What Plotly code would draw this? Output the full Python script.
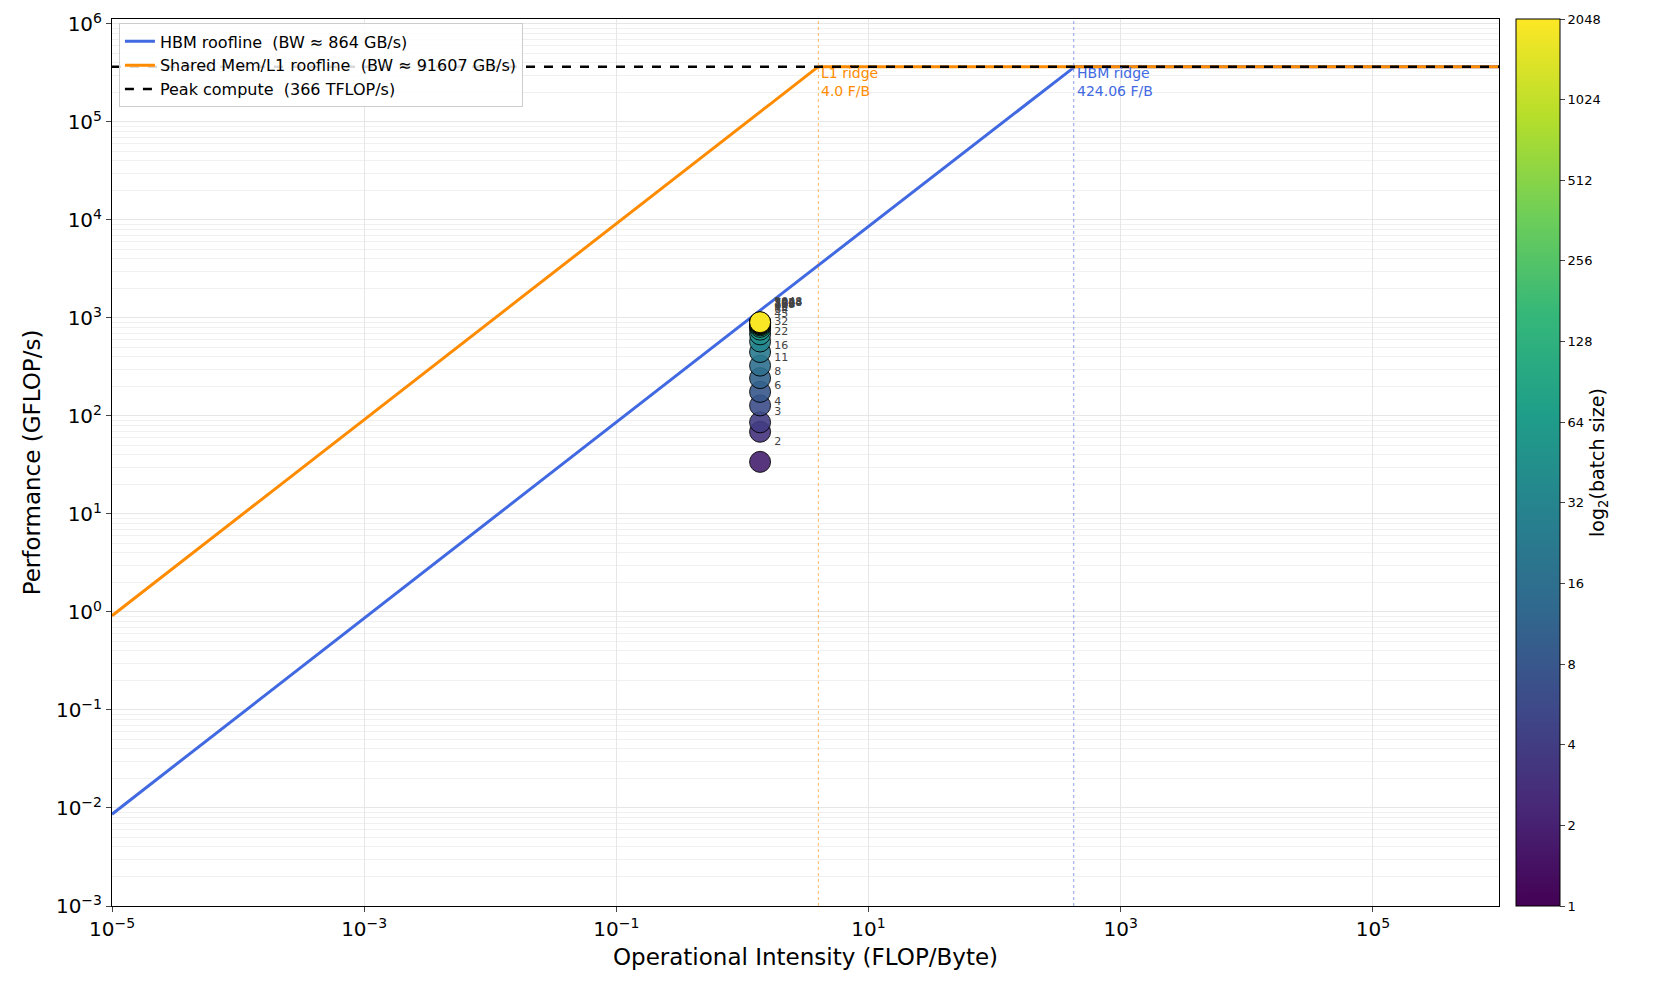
import numpy as np
import plotly.graph_objects as go

batch = [2, 3, 4, 6, 8, 11, 16, 22, 32, 45, 64, 90, 128, 181, 256, 362, 512, 724, 1024, 1448, 2048]
perf = [34, 69, 86, 128, 176, 243, 326, 449, 575, 680, 760, 810, 840, 860, 870, 880, 885, 890, 895, 900, 905]
oi = [1.38] * len(batch)
hbm_bw = 864.0
l1_bw = 91607.0
peak = 366400.0
x_ends = [1e-5, 1e6]
cb_ticks = [1, 2, 4, 8, 16, 32, 64, 128, 256, 512, 1024, 2048]

hbm_ridge = peak / hbm_bw
l1_ridge = peak / l1_bw
fig = go.Figure()
xs = np.logspace(-5, 6, 400)
fig.add_trace(go.Scatter(x=xs, y=np.minimum(hbm_bw * xs, peak), mode="lines",
                         line=dict(color="#4169e1", width=3), name="HBM roofline  (BW ≈ 864 GB/s)"))
fig.add_trace(go.Scatter(x=xs, y=np.minimum(l1_bw * xs, peak), mode="lines",
                         line=dict(color="#ff8c00", width=3), name="Shared Mem/L1 roofline  (BW ≈ 91607 GB/s)"))
fig.add_trace(go.Scatter(x=x_ends, y=[peak, peak], mode="lines",
                         line=dict(color="black", width=2.5, dash="dash"), name="Peak compute  (366 TFLOP/s)"))
lb = np.log2(batch)
fig.add_trace(go.Scatter(x=oi, y=perf, mode="markers+text", showlegend=False,
                         text=[str(b) for b in batch], textposition="top right",
                         textfont=dict(size=11, color="#444"),
                         marker=dict(size=21, color=lb, colorscale="Viridis", cmin=0, cmax=11,
                                     line=dict(color="black", width=1), opacity=0.9,
                                     colorbar=dict(tickvals=np.log2(cb_ticks), ticktext=[str(t) for t in cb_ticks],
                                                   title=dict(text="log<sub>2</sub>(batch size)", side="right", font=dict(size=19)),
                                                   thickness=44, len=1.0, y=0.5, yanchor="middle", x=1.012, xpad=0, ypad=0,
                                                   outlinecolor="black", outlinewidth=1, ticks="outside",
                                                   tickfont=dict(size=13)))))
for xr, c, t in [(l1_ridge, "#ff8c00", "L1 ridge<br>4.0 F/B"), (hbm_ridge, "#4169e1", "HBM ridge<br>424.06 F/B")]:
    fig.add_shape(type="line", x0=xr, x1=xr, y0=0, y1=1, yref="paper", line=dict(color=c, width=1, dash="dot"), opacity=0.6)
    fig.add_annotation(x=np.log10(xr), y=np.log10(peak), text=t, showarrow=False, xanchor="left", yanchor="top",
                       align="left", font=dict(color=c, size=14), xshift=1, yshift=4)

fig.update_layout(width=1657, height=991, plot_bgcolor="white", paper_bgcolor="white",
                  font=dict(family="DejaVu Sans", color="black"),
                  margin=dict(l=104, r=166, t=11, b=93, autoexpand=False),
                  legend=dict(x=0.005, y=0.995, xanchor="left", yanchor="top", bordercolor="#ccc", borderwidth=1,
                              bgcolor="rgba(255,255,255,0.85)", font=dict(size=16)))
fig.update_xaxes(type="log", range=[-5, 6], title=dict(text="Operational Intensity (FLOP/Byte)", font=dict(size=23), standoff=8),
                 tickvals=[1e-5, 1e-3, 1e-1, 1e1, 1e3, 1e5], automargin=False,
                 ticktext=["10<sup>−5</sup>", "10<sup>−3</sup>", "10<sup>−1</sup>", "10<sup>1</sup>", "10<sup>3</sup>", "10<sup>5</sup>"],
                 tickfont=dict(size=20), showgrid=True, gridcolor="#e6e6e6", ticks="outside",
                 showline=True, linecolor="black", mirror=True, zeroline=False)
fig.update_yaxes(type="log", range=[-3, 6.05], title=dict(text="Performance (GFLOP/s)", font=dict(size=23), standoff=8),
                 tickvals=[10.0**k for k in range(-3, 7)], automargin=False,
                 ticktext=["10<sup>%s</sup>" % (str(k).replace("-", "−")) for k in range(-3, 7)],
                 tickfont=dict(size=20), showgrid=True, gridcolor="#e6e6e6", ticks="outside",
                 minor=dict(showgrid=True, gridcolor="#f0f0f0", tickvals=[m * 10.0**k for k in range(-3, 6) for m in range(2, 10)]),
                 showline=True, linecolor="black", mirror=True, zeroline=False)
fig.write_html("out.html")
